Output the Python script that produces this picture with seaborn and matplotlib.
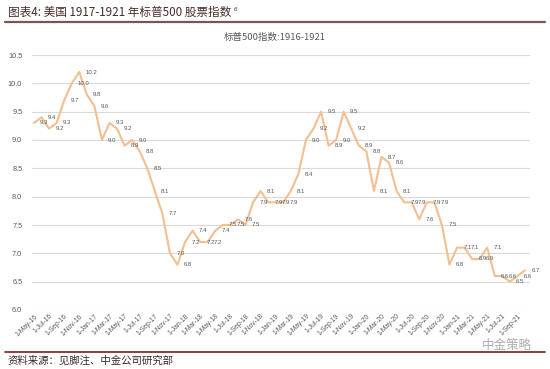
import matplotlib
matplotlib.use("Agg")
import matplotlib.pyplot as plt
import seaborn as sns
import pandas as pd
import numpy as np

# ---- data ----
start_month = "1916-05-01"
values = [9.3, 9.4, 9.2, 9.3, 9.7, 10.0, 10.2, 9.8, 9.6, 9.0,
          9.3, 9.2, 8.9, 9.0, 8.8, 8.5, 8.1, 7.7, 7.0, 6.8,
          7.2, 7.4, 7.2, 7.2, 7.4, 7.5, 7.5, 7.6, 7.5, 7.9,
          8.1, 7.9, 7.9, 7.9, 8.1, 8.4, 9.0, 9.2, 9.5, 8.9,
          9.0, 9.5, 9.2, 8.9, 8.8, 8.1, 8.7, 8.6, 8.1, 7.9,
          7.9, 7.6, 7.9, 7.9, 7.5, 6.8, 7.1, 7.1, 6.9, 6.9,
          7.1, 6.6, 6.6, 6.5, 6.6, 6.7]
dates = pd.date_range(start_month, periods=len(values), freq="MS")
month_idx = list(range(len(values)))
tick_idx = month_idx[::2]
tick_labels = [f"1-{d.strftime('%b')}-{d.strftime('%y')}" for d in dates[::2]]
y_ticks = [6.0, 6.5, 7.0, 7.5, 8.0, 8.5, 9.0, 9.5, 10.0, 10.5]

title_text = "图表4: 美国 1917-1921 年标普500 股票指数"
subtitle_text = "标普500指数:1916-1921"
source_text = "资料来源：见脚注、中金公司研究部"
watermark_text = "中金策略"

df = pd.DataFrame({"idx": month_idx, "value": values})

sns.set_theme(style="white")
plt.rcParams["font.family"] = ["Liberation Sans", "Noto Sans CJK SC", "DejaVu Sans"]

fig = plt.figure(figsize=(5.5, 3.69), dpi=100)
ax = fig.add_axes([32/550, 1-310/369, (530-32)/550, (310-55)/369])

sns.lineplot(data=df, x="idx", y="value", ax=ax, color="#F5BE8F", linewidth=1.5)

for i, v in zip(month_idx, values):
    ax.annotate(f"{v:.1f}", (i, v), xytext=(4.5, 0), textcoords="offset points",
                ha="left", va="center", fontsize=4.3, color="#595959")

ax.set_ylim(6.0, 10.5)
ax.set_xlim(-0.26, 65.66)
ax.set_yticks(y_ticks)
ax.set_yticklabels([f"{t:.1f}" for t in y_ticks], fontsize=5.3, color="#595959")
ax.set_xticks(tick_idx)
ax.set_xticklabels(tick_labels, rotation=45, ha="right", rotation_mode="anchor",
                   fontsize=4.8, color="#595959")
ax.tick_params(axis="both", length=0, pad=2)
ax.tick_params(axis="y", pad=7)
ax.set_xlabel("")
ax.set_ylabel("")
ax.grid(axis="y", color="#D9D9D9", linewidth=0.8)
ax.grid(axis="x", visible=False)
for s in ax.spines.values():
    s.set_visible(False)

# titles and frame lines
fig.text(8/550, 1-16/369, title_text, fontsize=8.4, color="#4A2A2A", style="italic",
         family=["Noto Sans CJK SC", "DejaVu Sans"], va="baseline", ha="left")
fig.text(234/550, 1-11/369, "6", fontsize=4.5, color="#4A2A2A", style="italic", ha="left", va="baseline")
fig.text(275/550, 1-40/369, subtitle_text, fontsize=6.8, color="#595959",
         family=["Noto Sans CJK SC", "DejaVu Sans"], ha="center", va="baseline")
fig.add_artist(plt.Line2D([5/550, 545/550], [1-22/369, 1-22/369], color="#7A5555", linewidth=1.6))
fig.add_artist(plt.Line2D([5/550, 545/550], [1-352/369, 1-352/369], color="#7A1E1E", linewidth=1.2))
fig.text(8/550, 1-364/369, source_text, fontsize=7.5, color="#3A2A2A", style="italic",
         family=["Noto Sans CJK SC", "DejaVu Sans"], ha="left", va="baseline")
fig.text(507/550, 1-349/369, watermark_text, fontsize=9, color="#9A9A9A", alpha=0.8,
         family=["Noto Sans CJK SC", "DejaVu Sans"], ha="center", va="baseline")

fig.savefig("out.png", dpi=100)
